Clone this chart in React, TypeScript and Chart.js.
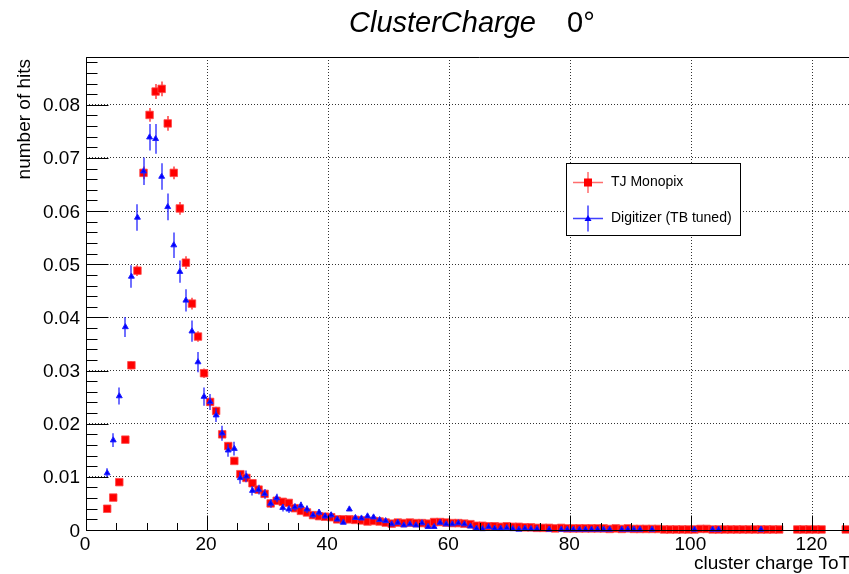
import { useEffect, useRef } from "react";
import { Chart, registerables } from "chart.js";

Chart.register(...registerables);

// ---------- text ----------
const TITLE_MAIN = "ClusterCharge";
const TITLE_ANGLE = "0°";
const X_TITLE = "cluster charge ToT";
const Y_TITLE = "number of hits";
const SERIES_NAMES = ["TJ Monopix", "Digitizer (TB tuned)"];

// ---------- axes ----------
const X_MIN = 0;
const X_MAX = 130;
const Y_MIN = 0;
const Y_MAX = 0.089;
const X_MAJOR = [0, 20, 40, 60, 80, 100, 120];
const X_LABELS = ["0", "20", "40", "60", "80", "100", "120"];
const Y_MAJOR = [0, 0.01, 0.02, 0.03, 0.04, 0.05, 0.06, 0.07, 0.08];
const Y_LABELS = ["0", "0.01", "0.02", "0.03", "0.04", "0.05", "0.06", "0.07", "0.08"];
const X_MINOR_STEP = 5;
const Y_MINOR_STEP = 0.002;

// ---------- data (bin centres) ----------
const BIN_CENTERS = [
  3.5, 4.5, 5.5, 6.5, 7.5, 8.5, 9.5, 10.5, 11.5, 12.5,
  13.5, 14.5, 15.5, 16.5, 17.5, 18.5, 19.5, 20.5, 21.5, 22.5,
  23.5, 24.5, 25.5, 26.5, 27.5, 28.5, 29.5, 30.5, 31.5, 32.5,
  33.5, 34.5, 35.5, 36.5, 37.5, 38.5, 39.5, 40.5, 41.5, 42.5,
  43.5, 44.5, 45.5, 46.5, 47.5, 48.5, 49.5, 50.5, 51.5, 52.5,
  53.5, 54.5, 55.5, 56.5, 57.5, 58.5, 59.5, 60.5, 61.5, 62.5,
  63.5, 64.5, 65.5, 66.5, 67.5, 68.5, 69.5, 70.5, 71.5, 72.5,
  73.5, 74.5, 75.5, 76.5, 77.5, 78.5, 79.5, 80.5, 81.5, 82.5,
  83.5, 84.5, 85.5, 86.5, 87.5, 88.5, 89.5, 90.5, 91.5, 92.5,
  93.5, 94.5, 95.5, 96.5, 97.5, 98.5, 99.5, 100.5, 101.5, 102.5,
  103.5, 104.5, 105.5, 106.5, 107.5, 108.5, 109.5, 110.5, 111.5, 112.5,
  113.5, 114.5, 115.5, 116.5, 117.5, 118.5, 119.5, 120.5, 121.5, 122.5,
  123.5, 124.5, 125.5,
];

// TJ Monopix
const TJ_VALUES: (number | null)[] = [
  0.0040, 0.0061, 0.0090, 0.0170, 0.0310, 0.0488, 0.0672, 0.0781, 0.0825, 0.0830,
  0.0765, 0.0672, 0.0605, 0.0503, 0.0426, 0.0364, 0.0295, 0.0241, 0.0224, 0.0180,
  0.0158, 0.0130, 0.0105, 0.0098, 0.0088, 0.0076, 0.0068, 0.0050, 0.0055, 0.0053,
  0.0051, 0.0041, 0.0036, 0.0033, 0.0028, 0.0026, 0.0025, 0.0024, 0.0020, 0.0020,
  0.0020, 0.0019, 0.0018, 0.0016, 0.0017, 0.0016, 0.0014, 0.0012, 0.0014, 0.0013,
  0.0014, 0.0013, 0.0013, 0.0012, 0.0015, 0.0015, 0.0014, 0.0013, 0.0013, 0.0012,
  0.0011, 0.0008, 0.0008, 0.0007, 0.0007, 0.0006, 0.0007, 0.0006, 0.0006, 0.0005,
  0.0005, 0.0004, 0.0004, 0.0004, 0.0003, 0.0004, 0.0003, 0.0003, 0.0003, 0.0003,
  0.0003, 0.0003, 0.0003, 0.0002, 0.0003, 0.0002, 0.0003, 0.0002, 0.0002, 0.0002,
  0.0002, 0.0002, 0.0001, 0.0001, 0.0001, 0.0001, 0.0001, 0.0001, 0.0002, 0.0002,
  0.0001, 0.0001, 0.0001, 0.0001, 0.0001, 0.0001, 0.0001, 0.0001, 0.0001, 0.0001,
  0.0001, 0.0001, null, null, 0.0001, 0.0001, 0.0001, 0.0001, 0.0001, null,
  null, null, 0.0001,
];
const TJ_ERRORS = [
  0.0003, 0.0004, 0.0005, 0.0006, 0.0008, 0.0010, 0.0012, 0.0013, 0.0014, 0.0014,
  0.0014, 0.0012, 0.0012, 0.0012, 0.0011, 0.0010, 0.0009, 0.0008, 0.0008, 0.0007,
  0.0007, 0.0006, 0.0006, 0.0005, 0.0005, 0.0005, 0.0005, 0.0004, 0.0004, 0.0004,
  0.0004, 0.0004, 0.0003, 0.0003, 0.0003, 0.0003, 0.0003, 0.0003,
];

// Digitizer (TB tuned)
const DIG_VALUES: (number | null)[] = [
  0.0107, 0.0169, 0.0252, 0.0382, 0.0477, 0.0588, 0.0675, 0.0739, 0.0736, 0.0665,
  0.0608, 0.0536, 0.0486, 0.0432, 0.0374, 0.0316, 0.0251, 0.0241, 0.0216, 0.0182,
  0.0150, 0.0153, 0.0098, 0.0101, 0.0074, 0.0076, 0.0068, 0.0050, 0.0060, 0.0042,
  0.0039, 0.0043, 0.0046, 0.0039, 0.0028, 0.0033, 0.0026, 0.0028, 0.0020, 0.0014,
  0.0039, 0.0023, 0.0022, 0.0026, 0.0024, 0.0019, 0.0017, 0.0011, 0.0014, 0.0009,
  0.0011, 0.0009, 0.0013, 0.0006, 0.0006, 0.0014, 0.0011, 0.0011, 0.0013, 0.0011,
  0.0007, 0.0003, 0.0002, 0.0006, 0.0003, 0.0003, 0.0004, 0.0002, 0.0001, 0.0003,
  0.0002, 0.0002, null, 0.0001, null, 0.0001, 0.0001, 0.0001, 0.0001, 0.0001,
  0.0001, 0.0001, 0.0001, 0.0001, null, 0.0001, 0.0001, 0.0001, 0.0001, null,
  0.0001, null, null, null, null, null, null, 0.0001, null, null,
  0.0001, 0.0001, null, null, null, null, null, null, 0.0001, null,
  null, null, null, null, null, null, null, null, null, null,
  null, null, null,
];
const DIG_ERRORS = [
  0.0009, 0.0013, 0.0016, 0.0019, 0.0021, 0.0025, 0.0026, 0.0025, 0.0028, 0.0025,
  0.0025, 0.0024, 0.0021, 0.0021, 0.0020, 0.0019, 0.0017, 0.0015, 0.0013, 0.0014,
  0.0012, 0.0013, 0.0011, 0.0011, 0.0009, 0.0009, 0.0009, 0.0008, 0.0008, 0.0007,
  0.0007, 0.0007, 0.0007, 0.0007, 0.0006, 0.0006, 0.0006, 0.0006,
];

const RED = "#ff0000";
const BLUE = "#0000ff";
const RED_BAR = "rgba(255,60,60,0.75)";
const BLUE_BAR = "rgba(30,30,255,0.85)";
const FONT = '"Liberation Sans", Arial, Helvetica, sans-serif';

function toPoints(values: (number | null)[], errors: number[]) {
  const pts: { x: number; y: number; e: number }[] = [];
  values.forEach((v, i) => {
    if (v === null) return;
    pts.push({ x: BIN_CENTERS[i], y: v, e: errors[i] ?? 0 });
  });
  return pts;
}

const BAR_STYLE = [
  { color: RED_BAR, width: 2 },
  { color: BLUE_BAR, width: 1.5 },
];

const rootPlugin = {
  id: "rootStyle",
  beforeDatasetDraw(chart: any, args: any) {
    const ds = chart.data.datasets[args.index];
    const ys = chart.scales.y;
    const ctx = chart.ctx;
    const st = BAR_STYLE[args.index];
    ctx.save();
    ctx.strokeStyle = st.color;
    ctx.lineWidth = st.width;
    args.meta.data.forEach((el: any, i: number) => {
      const d = ds.data[i];
      if (!d || !d.e) return;
      const px = Math.round(el.x);
      ctx.beginPath();
      ctx.moveTo(px, ys.getPixelForValue(d.y + d.e));
      ctx.lineTo(px, ys.getPixelForValue(d.y - d.e));
      ctx.stroke();
    });
    ctx.restore();
  },
  afterDraw(chart: any) {
    const ctx = chart.ctx as CanvasRenderingContext2D;
    const xs = chart.scales.x;
    const ys = chart.scales.y;
    const a = chart.chartArea;
    ctx.save();
    ctx.strokeStyle = "#000";
    ctx.lineWidth = 1;
    // frame / axes
    const L = Math.round(a.left) + 0.5;
    const B = Math.round(a.bottom) + 0.5;
    const T = Math.round(a.top) + 0.5;
    ctx.beginPath();
    ctx.moveTo(L, T);
    ctx.lineTo(a.right, T);
    ctx.moveTo(L, T);
    ctx.lineTo(L, B);
    ctx.lineTo(a.right, B);
    ctx.stroke();
    // x ticks
    ctx.beginPath();
    for (let v = X_MIN; v <= X_MAX + 1e-9; v += X_MINOR_STEP) {
      const px = Math.round(xs.getPixelForValue(v)) + 0.5;
      const major = X_MAJOR.some((m) => Math.abs(m - v) < 1e-9);
      ctx.moveTo(px, B);
      ctx.lineTo(px, B - (major ? 15 : 7.5));
    }
    // y ticks
    for (let k = 0; k * Y_MINOR_STEP <= Y_MAX + 1e-12; k++) {
      const v = k * Y_MINOR_STEP;
      const py = Math.round(ys.getPixelForValue(v)) + 0.5;
      const major = Y_MAJOR.some((m) => Math.abs(m - v) < 1e-9);
      ctx.moveTo(L, py);
      ctx.lineTo(L + (major ? 22 : 11), py);
    }
    ctx.stroke();

    // tick labels
    ctx.fillStyle = "#000";
    ctx.font = `19px ${FONT}`;
    ctx.textBaseline = "alphabetic";
    ctx.textAlign = "center";
    X_MAJOR.forEach((v, i) => {
      ctx.fillText(X_LABELS[i], xs.getPixelForValue(v) - 1, 550);
    });
    ctx.textAlign = "right";
    Y_MAJOR.forEach((v, i) => {
      ctx.fillText(Y_LABELS[i], 80, ys.getPixelForValue(v) + 6.5);
    });

    // axis titles
    ctx.textAlign = "left";
    ctx.fillText(X_TITLE, 694, 569);
    ctx.save();
    ctx.translate(29.5, 59);
    ctx.rotate(-Math.PI / 2);
    ctx.textAlign = "right";
    ctx.fillText(Y_TITLE, 0, 0);
    ctx.restore();

    // title
    ctx.font = `italic 29px ${FONT}`;
    ctx.textAlign = "left";
    ctx.fillText(TITLE_MAIN, 349, 32);
    ctx.font = `29px ${FONT}`;
    ctx.fillText(TITLE_ANGLE, 567, 32);

    // legend
    ctx.fillStyle = "#fff";
    ctx.fillRect(566.5, 163.5, 174, 72);
    ctx.strokeStyle = "#000";
    ctx.lineWidth = 1;
    ctx.strokeRect(566.5, 163.5, 174, 72);
    const entries = [
      { y: 182.5, bar: RED_BAR, fill: RED, shape: "rect", half: 10.5 },
      { y: 218.5, bar: BLUE_BAR, fill: BLUE, shape: "tri", half: 13 },
    ];
    entries.forEach((e, i) => {
      ctx.strokeStyle = e.bar;
      ctx.lineWidth = 1.5;
      ctx.beginPath();
      ctx.moveTo(573, e.y);
      ctx.lineTo(603, e.y);
      ctx.moveTo(588, e.y - e.half);
      ctx.lineTo(588, e.y + e.half);
      ctx.stroke();
      ctx.fillStyle = e.fill;
      if (e.shape === "rect") {
        ctx.fillRect(584, e.y - 4, 8, 8);
      } else {
        ctx.beginPath();
        ctx.moveTo(588, e.y - 3.5);
        ctx.lineTo(591.5, e.y + 2.5);
        ctx.lineTo(584.5, e.y + 2.5);
        ctx.closePath();
        ctx.fill();
      }
      ctx.fillStyle = "#000";
      ctx.font = `14px ${FONT}`;
      ctx.textAlign = "left";
      ctx.textBaseline = "middle";
      ctx.fillText(SERIES_NAMES[i], 611, e.y);
    });
    ctx.restore();
  },
};

export default function App() {
  const ref = useRef<HTMLCanvasElement | null>(null);
  useEffect(() => {
    if (!ref.current) return;
    const chart = new Chart(ref.current, {
      type: "scatter",
      data: {
        datasets: [
          {
            label: SERIES_NAMES[0],
            data: toPoints(TJ_VALUES, TJ_ERRORS),
            order: 2,
            pointStyle: "rect",
            pointRadius: 5.3,
            pointBackgroundColor: RED,
            pointBorderColor: "rgba(255,70,70,0.8)",
            pointBorderWidth: 1,
            showLine: false,
            clip: false,
          } as any,
          {
            label: SERIES_NAMES[1],
            data: toPoints(DIG_VALUES, DIG_ERRORS),
            order: 1,
            pointStyle: "triangle",
            pointRadius: 3.4,
            pointBackgroundColor: BLUE,
            pointBorderColor: "#2020ff",
            pointBorderWidth: 1,
            showLine: false,
            clip: false,
          } as any,
        ],
      },
      options: {
        animation: false,
        responsive: false,
        devicePixelRatio: 1,
        events: [],
        layout: { padding: { left: 0, right: 27, top: 57, bottom: 0 } },
        plugins: { legend: { display: false }, title: { display: false }, tooltip: { enabled: false } },
        scales: {
          x: {
            type: "linear",
            min: X_MIN,
            max: X_MAX,
            afterBuildTicks: (s: any) => {
              s.ticks = X_MAJOR.map((v) => ({ value: v }));
            },
            afterFit: (s: any) => {
              s.height = 44;
            },
            ticks: { display: false },
            grid: { color: "rgba(0,0,0,0.8)", lineWidth: 1, drawTicks: false },
            border: { display: false, dash: [1, 2] },
          },
          y: {
            type: "linear",
            min: Y_MIN,
            max: Y_MAX,
            afterBuildTicks: (s: any) => {
              s.ticks = Y_MAJOR.map((v) => ({ value: v }));
            },
            afterFit: (s: any) => {
              s.width = 86;
            },
            ticks: { display: false },
            grid: { color: "rgba(0,0,0,0.8)", lineWidth: 1, drawTicks: false },
            border: { display: false, dash: [1, 2] },
          },
        },
      },
      plugins: [rootPlugin],
    });
    return () => chart.destroy();
  }, []);
  return (
    <div
      style={{
        position: "fixed",
        left: 0,
        top: 0,
        width: 849,
        height: 574,
        overflow: "hidden",
        background: "#fff",
      }}
    >
      <canvas ref={ref} width={900} height={574} style={{ display: "block" }} />
    </div>
  );
}
